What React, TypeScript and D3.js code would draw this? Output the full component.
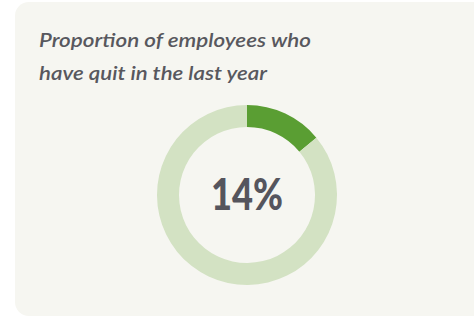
import React from 'react';
import * as d3 from 'd3';

const titleLines = ['Proportion of employees who', 'have quit in the last year'];
const segments = ['Quit', 'Stayed'];
const values = [14, 86];
const colors = ['#5a9e33', '#d3e2c3'];

const width = 474;
const height = 318;

const App = () => {
  const cx = 247;
  const cy = 195;
  const outerR = 90;
  const innerR = 68;

  const pie = d3.pie<number>().sort(null).value(d => d);
  const arcs = pie(values);
  const arc = d3.arc<d3.PieArcDatum<number>>().innerRadius(innerR).outerRadius(outerR);

  const total = d3.sum(values);
  const pct = d3.format('.0%')(values[0] / total);

  return (
    <svg
      width={width}
      height={height}
      style={{ position: 'absolute', left: 0, top: 0, background: '#ffffff' }}
    >
      <rect x={15} y={2} width={480} height={314} rx={14} ry={14} fill="#f6f6f1" />
      {titleLines.map((t, i) => (
        <text
          key={i}
          x={39}
          y={47 + i * 33}
          fontFamily="Lato, 'Open Sans', sans-serif"
          fontStyle="italic"
          fontWeight={600}
          fontSize={18.5}
          fill="#58585e"
          textLength={i === 0 ? 272 : 228}
          lengthAdjust="spacingAndGlyphs"
        >
          {t}
        </text>
      ))}
      <g transform={`translate(${cx},${cy})`}>
        {arcs.map((a, i) => (
          <path key={segments[i]} d={arc(a) || ''} fill={colors[i]} />
        ))}
        <text
          x={0}
          y={15}
          textAnchor="middle"
          fontFamily="Lato, 'Open Sans', sans-serif"
          fontWeight={900}
          fontSize={44}
          fill="#55555d"
          textLength={72}
          lengthAdjust="spacingAndGlyphs"
        >
          {pct}
        </text>
      </g>
    </svg>
  );
};

export default App;
